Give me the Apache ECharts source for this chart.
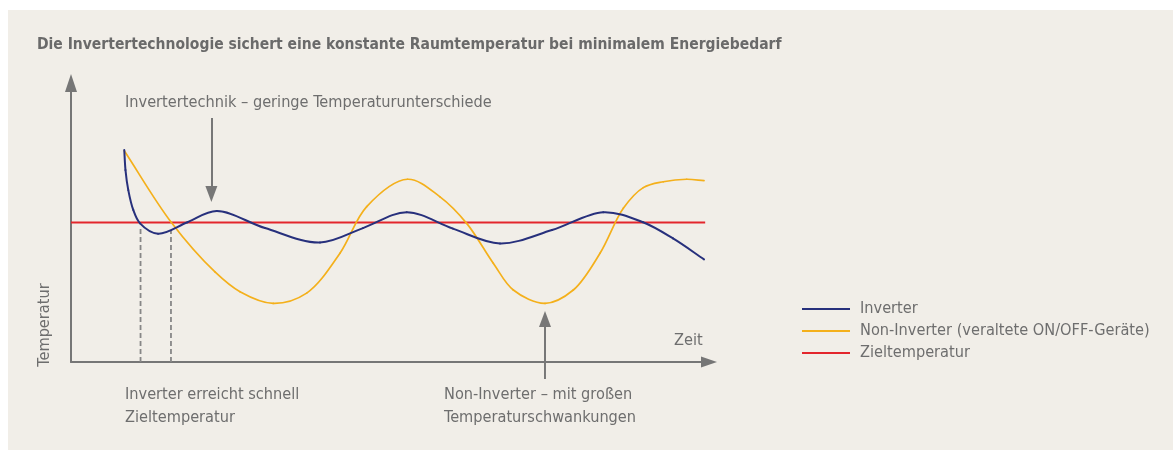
<!DOCTYPE html>
<html>
<head>
<meta charset="utf-8">
<script src="https://cdn.jsdelivr.net/npm/echarts@6/dist/echarts.min.js"></script>
<style>
html,body{margin:0;padding:0;background:#ffffff;}
#wrap{position:relative;width:1173px;height:450px;}
#panel{position:absolute;left:8px;top:10px;width:1165px;height:440px;background:#f1eee8;}
#chart{position:absolute;left:0;top:0;width:1173px;height:450px;}
</style>
</head>
<body>
<div id="wrap"><div id="panel"></div><div id="chart"></div></div>
<script>
// ---- data (x = time units 0..100, y = temperature units 0..100) ----
const titleText = 'Die Invertertechnologie sichert eine konstante Raumtemperatur bei minimalem Energiebedarf';
const seriesNames = ['Inverter', 'Non-Inverter (veraltete ON/OFF-Geräte)', 'Zieltemperatur'];

const inverterX = [8.35, 8.54, 8.98, 9.76, 10.82, 13.64, 18.26, 22.84, 30.41, 39.03, 45.77, 52.62, 59.87, 67.24, 75.39, 83.43, 89.66, 94.36, 99.22];
const inverterY = [76.0, 68.8, 61.6, 54.5, 49.7, 46.0, 50.1, 54.1, 48.0, 42.8, 48.0, 53.7, 47.8, 42.5, 47.3, 53.7, 50.1, 44.3, 36.8];

const nonInverterX = [8.35, 15.67, 22.57, 26.49, 31.71, 36.94, 42.16, 46.35, 52.74, 57.84, 62.02, 66.19, 69.33, 74.29, 78.73, 82.92, 86.57, 89.70, 92.84, 96.50, 99.22];
const nonInverterY = [75.7, 50.2, 32.3, 25.2, 21.0, 24.7, 39.0, 55.7, 65.5, 59.2, 49.7, 35.4, 25.8, 21.0, 25.8, 39.0, 55.1, 62.5, 64.6, 65.5, 65.0];

const targetX = [0, 99.4];
const targetY = [50, 50];

// dashed guides: x position and top value
const guideX = [10.9, 15.67];
const guideTop = [48.7, 47.3];

// annotation arrows: [x, yStart, yEnd(arrow head centre)]
const arrowDown = [22.0, 87.5, 60.2];
const arrowUp = [74.29, -6.1, 15.4];

const annoTop = 'Invertertechnik – geringe Temperaturunterschiede';
const annoLeft = ['Inverter erreicht schnell', 'Zieltemperatur'];
const annoRight = ['Non-Inverter – mit großen', 'Temperaturschwankungen'];
const yName = 'Temperatur';
const xName = 'Zeit';

const zip = (xs, ys) => xs.map((x, i) => [x, ys[i]]);

const FONT = '"Liberation Sans Narrow", "Arial Narrow", "DejaVu Sans Condensed", sans-serif';
const FS = 16.2;
const TXT = '#6e6e6e';
const AX = '#767676';
const C_INV = '#27307c', C_NON = '#f4b01b', C_TGT = '#e3262c';
const f = (s) => s + 'px ' + FONT;

// centripetal Catmull-Rom through pixel points -> bezier segments
function crBeziers(p) {
  const n = p.length, segs = [];
  const dist = (a, b) => Math.hypot(a[0] - b[0], a[1] - b[1]);
  for (let i = 0; i < n - 1; i++) {
    const p1 = p[i], p2 = p[i + 1];
    const p0 = i > 0 ? p[i - 1] : [2 * p1[0] - p2[0], 2 * p1[1] - p2[1]];
    const p3 = i + 2 < n ? p[i + 2] : [2 * p2[0] - p1[0], 2 * p2[1] - p1[1]];
    const d1 = Math.sqrt(dist(p0, p1)) || 1e-6;
    const d2 = Math.sqrt(dist(p1, p2)) || 1e-6;
    const d3 = Math.sqrt(dist(p2, p3)) || 1e-6;
    const a1 = d1 * d1, a2 = d2 * d2, a3 = d3 * d3;
    const c1 = [0, 1].map(k => (a1 * p2[k] - a2 * p0[k] + (2 * a1 + 3 * d1 * d2 + a2) * p1[k]) / (3 * d1 * (d1 + d2)));
    const c2 = [0, 1].map(k => (a3 * p1[k] - a2 * p3[k] + (2 * a3 + 3 * d3 * d2 + a2) * p2[k]) / (3 * d3 * (d3 + d2)));
    segs.push({x1: p1[0], y1: p1[1], cpx1: c1[0], cpy1: c1[1], cpx2: c2[0], cpy2: c2[1], x2: p2[0], y2: p2[1]});
  }
  return segs;
}

function curveSeries(name, xs, ys, color, width, z) {
  return {
    name: name, type: 'custom', z: z, silent: true,
    itemStyle: {color: color},
    data: [[xs[0], ys[0]]],
    renderItem: function (params, api) {
      if (params.dataIndex !== 0) return;
      const pts = xs.map((x, i) => api.coord([x, ys[i]]));
      return {
        type: 'group',
        children: crBeziers(pts).map(s => ({
          type: 'bezierCurve', shape: s,
          style: {fill: null, stroke: color, lineWidth: width, lineCap: 'round'}
        }))
      };
    }
  };
}

const chart = echarts.init(document.getElementById('chart'), null, {renderer: 'canvas'});

const guideSeries = guideX.map((gx, i) => ({
  type: 'line', data: [[gx, 0], [gx, guideTop[i]]], symbol: 'none', silent: true,
  lineStyle: {color: '#878787', width: 1.8, type: [5, 3]}, z: 1
}));

const option = {
  backgroundColor: 'transparent',
  animation: false,
  textStyle: {fontFamily: FONT},
  title: {
    text: titleText, left: 37, top: 37, padding: 0,
    textStyle: {fontFamily: FONT, fontWeight: 'bold', fontSize: 15.5, color: '#6a6a6a'}
  },
  grid: {left: 71, top: 83, right: 464, bottom: 88, containLabel: false},
  legend: {
    orient: 'vertical', left: 802, top: 299, itemGap: 2, padding: 0,
    icon: 'rect', itemWidth: 48, itemHeight: 2,
    textStyle: {fontFamily: FONT, fontSize: FS, color: TXT, lineHeight: 20, padding: [0, 0, 0, 5]},
    data: seriesNames
  },
  xAxis: {
    type: 'value', min: 0, max: 100,
    axisLine: {show: true, onZero: false, symbol: ['none', 'triangle'], symbolSize: [11, 16], lineStyle: {color: AX, width: 2}},
    axisTick: {show: false}, axisLabel: {show: false}, splitLine: {show: false}
  },
  yAxis: {
    type: 'value', min: 0, max: 100,
    axisLine: {show: true, onZero: false, symbol: ['none', 'triangle'], symbolSize: [12, 18], lineStyle: {color: AX, width: 2}},
    axisTick: {show: false}, axisLabel: {show: false}, splitLine: {show: false}
  },
  graphic: [
    {type: 'text', x: 125, y: 103, style: {text: annoTop, font: f(FS), fill: TXT, verticalAlign: 'middle'}},
    {type: 'text', x: 125, y: 395, style: {text: annoLeft[0], font: f(FS), fill: TXT, verticalAlign: 'middle'}},
    {type: 'text', x: 125, y: 418, style: {text: annoLeft[1], font: f(FS), fill: TXT, verticalAlign: 'middle'}},
    {type: 'text', x: 444, y: 395, style: {text: annoRight[0], font: f(FS), fill: TXT, verticalAlign: 'middle'}},
    {type: 'text', x: 444, y: 418, style: {text: annoRight[1], font: f(FS), fill: TXT, verticalAlign: 'middle'}},
    {type: 'text', x: 674, y: 341, style: {text: xName, font: f(FS), fill: TXT, verticalAlign: 'middle'}},
    {type: 'text', x: 45, y: 325, rotation: Math.PI / 2, style: {text: yName, font: f(FS), fill: TXT, align: 'center', verticalAlign: 'middle'}}
  ],
  series: [
    ...guideSeries,
    {
      name: seriesNames[2], type: 'line', data: zip(targetX, targetY), symbol: 'none',
      lineStyle: {color: C_TGT, width: 2}, itemStyle: {color: C_TGT}, z: 2
    },
    curveSeries(seriesNames[1], nonInverterX, nonInverterY, C_NON, 1.7, 3),
    curveSeries(seriesNames[0], inverterX, inverterY, C_INV, 2, 4),
    {
      type: 'line', data: [], symbol: 'none', clip: false, silent: true,
      markLine: {
        silent: true, symbol: ['none', 'triangle'], symbolSize: [12, 16],
        label: {show: false},
        lineStyle: {color: '#777777', width: 2, type: 'solid'},
        data: [
          [{coord: [arrowDown[0], arrowDown[1]]}, {coord: [arrowDown[0], arrowDown[2]]}],
          [{coord: [arrowUp[0], 0]}, {coord: [arrowUp[0], arrowUp[2]]}]
        ]
      }
    }
  ]
};
chart.setOption(option);

// stub of the up-arrow that continues below the time axis (positions via the chart's own scale)
const pA = chart.convertToPixel({gridIndex: 0}, [arrowUp[0], arrowUp[1]]);
const pB = chart.convertToPixel({gridIndex: 0}, [arrowUp[0], 0]);
chart.setOption({
  graphic: [{
    id: 'upStub', type: 'line', z: 5, silent: true,
    shape: {x1: pA[0], y1: pA[1], x2: pB[0], y2: pB[1]},
    style: {stroke: '#777777', lineWidth: 2}
  }]
});
</script>
</body>
</html>
